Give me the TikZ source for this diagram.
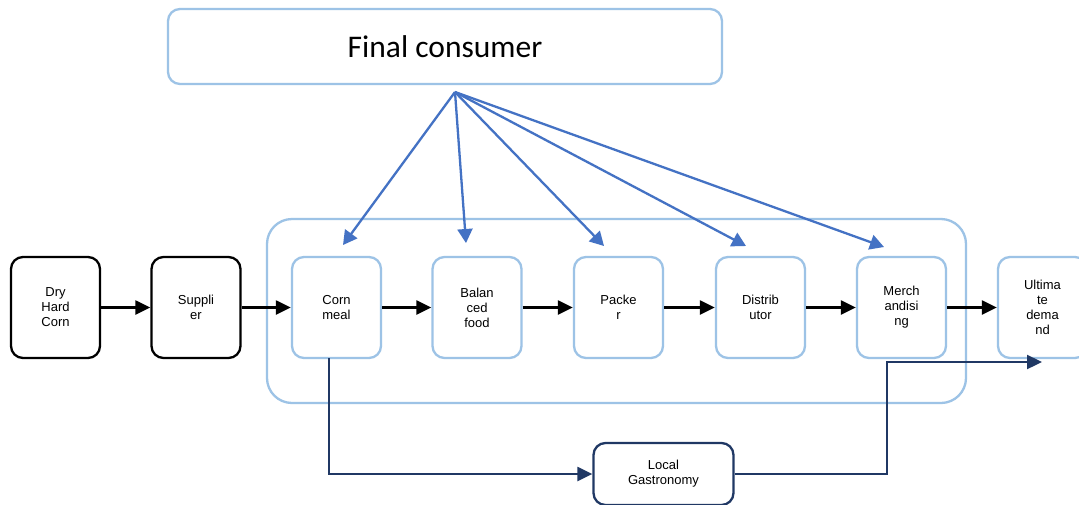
\documentclass[tikz,border=0pt]{standalone}
\usepackage{fontspec}
\setmainfont{Liberation Sans}
\newfontfamily\calib{Carlito}
\usetikzlibrary{arrows.meta}
\definecolor{lblue}{HTML}{9DC3E6}
\definecolor{mblue}{HTML}{4472C4}
\definecolor{navy}{HTML}{203864}
\begin{document}
\begin{tikzpicture}[x=1pt,y=-1pt,
  box/.style={draw, line width=2.3pt, rounded corners=12pt, minimum width=89pt, minimum height=101pt,
     inner sep=0pt, align=center, font=\fontsize{13}{15}\selectfont, text=black},
  blk/.style={box, draw=black},
  lbx/.style={box, draw=lblue},
  flow/.style={draw=black, line width=2.3pt, -{Triangle[length=15pt,width=14pt]}},
  cons/.style={draw=mblue, line width=2.3pt, -{Triangle[length=14pt,width=15pt]}},
  loc/.style={draw=navy, line width=2.3pt, -{Triangle[length=15pt,width=14pt]}}]
\useasboundingbox (0,0) rectangle (1079,504);
\fill[white] (0,0) rectangle (1079,504);
% container
\draw[lblue, line width=2.3pt, rounded corners=25pt] (267,219) rectangle (966,403);
% final consumer
\node[draw=lblue, line width=2.3pt, rounded corners=12pt, minimum width=554pt, minimum height=75pt,
  font=\calib\fontsize{31.5}{34}\selectfont] (fc) at (445,46.5) {Final consumer};
\coordinate (hub) at (455,92);
% nodes
\node[blk] (dry) at (55.5,307.5) {Dry\\Hard\\Corn};
\node[blk] (sup) at (196,307.5) {Suppli\\er};
\node[lbx] (corn) at (336.5,307.5) {Corn\\meal};
\node[lbx] (bal) at (477,307.5) {Balan\\ced\\food};
\node[lbx] (pack) at (618.5,307.5) {Packe\\r};
\node[lbx] (dist) at (760.5,307.5) {Distrib\\utor};
\node[lbx] (merch) at (901.5,307.5) {Merch\\andisi\\ng};
\node[lbx] (ult) at (1042.5,307.5) {Ultima\\te\\dema\\nd};
\node[box, draw=navy, minimum width=140pt, minimum height=62pt] (loc) at (663.5,474) {Local\\Gastronomy};
% flow arrows
\draw[flow] (dry.east) -- (sup.west);
\draw[flow] (sup.east) -- (corn.west);
\draw[flow] (corn.east) -- (bal.west);
\draw[flow] (bal.east) -- (pack.west);
\draw[flow] (pack.east) -- (dist.west);
\draw[flow] (dist.east) -- (merch.west);
\draw[flow] (merch.east) -- (ult.west);
% consumer arrows
\coordinate (t1) at (343,245);
\coordinate (t2) at (466,243);
\coordinate (t3) at (604,246);
\coordinate (t4) at (746,246);
\coordinate (t5) at (884,247);
\draw[cons] (hub) -- (t1);
\draw[cons] (hub) -- (t2);
\draw[cons] (hub) -- (t3);
\draw[cons] (hub) -- (t4);
\draw[cons] (hub) -- (t5);
% local gastronomy
\coordinate (c1) at (329,358);
\draw[loc] (c1) |- (loc.west);
\coordinate (e1) at (887,362);
\coordinate (e2) at (1042,362);
\draw[loc] (loc.east) -| (e1) -- (e2);
\end{tikzpicture}
\end{document}
